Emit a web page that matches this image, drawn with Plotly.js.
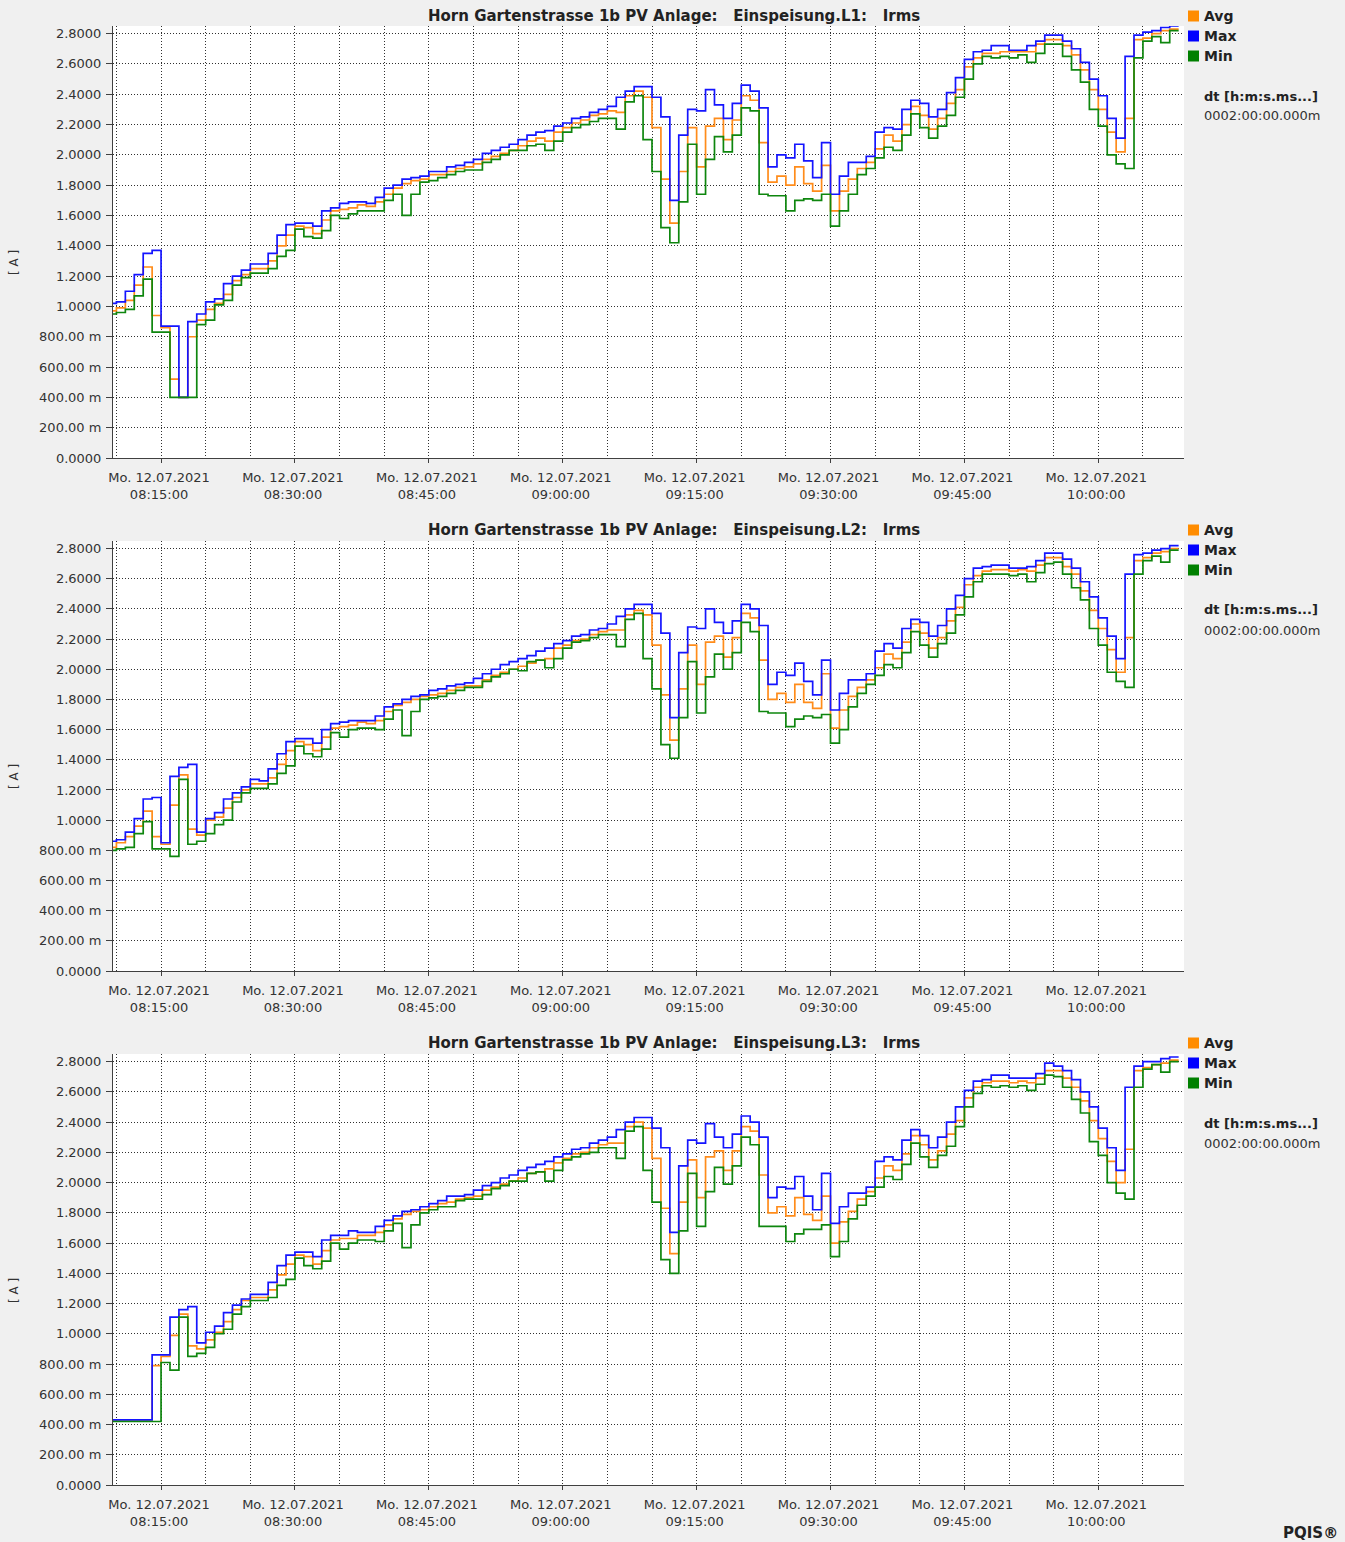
<!DOCTYPE html>
<html><head><meta charset="utf-8">
<script src="https://cdn.plot.ly/plotly-3.0.1.min.js"></script>
<style>html,body{margin:0;padding:0;background:#f0f0f0}#chart{width:1345px;height:1542px}</style>
</head><body><div id="chart"></div>
<script>
// ---------- DATA (1-minute values, starting 08:09) ----------
const L1_max = [1.02,1.03,1.10,1.21,1.35,1.37,0.87,0.87,0.40,0.90,0.95,1.03,1.05,1.15,1.20,1.24,1.28,1.28,1.35,1.47,1.54,1.55,1.55,1.53,1.63,1.65,1.68,1.69,1.69,1.68,1.72,1.78,
 1.80,1.84,1.85,1.86,1.89,1.89,1.92,1.93,1.95,1.97,2.01,2.03,2.05,2.07,2.10,2.13,2.15,2.16,2.19,2.21,2.24,2.25,2.28,2.30,2.32,2.38,2.42,2.45,2.45,
 2.38,2.25,1.70,2.13,2.30,2.29,2.43,2.33,2.24,2.34,2.46,2.42,2.31,1.92,2.00,1.98,2.07,1.96,1.85,2.08,1.74,1.86,1.95,1.95,1.99,2.15,2.18,2.17,2.30,
 2.36,2.34,2.25,2.30,2.41,2.51,2.63,2.68,2.69,2.72,2.72,2.69,2.69,2.72,2.75,2.79,2.79,2.75,2.70,2.61,2.50,2.39,2.24,2.11,2.65,2.79,2.81,2.82,2.84,2.85];
const L1_avg = [0.97,0.99,1.04,1.14,1.26,0.94,0.86,0.52,0.40,0.80,0.91,0.98,1.02,1.08,1.17,1.21,1.25,1.25,1.30,1.40,1.47,1.53,1.52,1.48,1.57,1.63,1.64,1.65,1.67,1.66,1.69,1.74,
 1.78,1.81,1.83,1.84,1.87,1.87,1.89,1.91,1.92,1.94,1.97,1.99,2.01,2.03,2.06,2.09,2.11,2.09,2.15,2.18,2.21,2.23,2.26,2.27,2.29,2.28,2.39,2.42,2.38,
 2.18,1.84,1.55,1.89,2.18,1.92,2.19,2.24,2.10,2.23,2.39,2.36,2.08,1.82,1.86,1.80,1.92,1.81,1.76,1.93,1.63,1.76,1.84,1.91,1.95,2.04,2.13,2.09,2.20,
 2.32,2.26,2.17,2.24,2.34,2.43,2.58,2.64,2.67,2.67,2.68,2.68,2.68,2.68,2.73,2.76,2.76,2.72,2.66,2.56,2.43,2.30,2.15,2.02,2.24,2.76,2.77,2.80,2.82,2.83];
const L1_min = [0.95,0.96,0.98,1.07,1.18,0.83,0.83,0.40,0.40,0.40,0.88,0.91,1.01,1.04,1.14,1.19,1.22,1.22,1.25,1.33,1.37,1.51,1.46,1.45,1.50,1.60,1.58,1.61,1.63,1.63,1.63,1.70,
 1.74,1.60,1.74,1.82,1.83,1.85,1.87,1.89,1.90,1.90,1.95,1.97,2.00,2.03,2.03,2.06,2.07,2.03,2.09,2.15,2.18,2.20,2.22,2.24,2.24,2.17,2.35,2.39,2.10,
 1.89,1.52,1.42,1.69,2.07,1.74,1.97,2.12,2.02,2.13,2.31,2.29,1.74,1.73,1.73,1.63,1.70,1.71,1.70,1.74,1.53,1.63,1.74,1.87,1.91,1.98,2.05,2.03,2.13,
 2.27,2.18,2.11,2.19,2.26,2.38,2.50,2.60,2.65,2.64,2.65,2.64,2.66,2.61,2.67,2.73,2.73,2.65,2.56,2.48,2.30,2.19,2.00,1.94,1.91,2.64,2.75,2.78,2.74,2.82];

const L2_max = [0.86,0.87,0.92,1.01,1.14,1.15,0.85,1.29,1.35,1.37,0.92,1.01,1.05,1.14,1.18,1.22,1.27,1.26,1.34,1.44,1.52,1.54,1.54,1.51,1.60,1.64,1.65,1.66,1.66,1.66,1.69,1.75,
 1.77,1.80,1.82,1.83,1.86,1.87,1.89,1.90,1.91,1.94,1.97,2.00,2.03,2.05,2.07,2.09,2.12,2.14,2.17,2.19,2.22,2.23,2.26,2.27,2.30,2.35,2.40,2.43,2.43,
 2.37,2.24,1.68,2.11,2.28,2.27,2.40,2.31,2.24,2.32,2.43,2.40,2.29,1.90,1.98,1.96,2.04,1.92,1.83,2.06,1.73,1.84,1.93,1.93,1.97,2.12,2.17,2.14,2.27,
 2.33,2.31,2.22,2.29,2.40,2.49,2.60,2.67,2.68,2.69,2.69,2.67,2.67,2.68,2.72,2.77,2.77,2.73,2.67,2.58,2.48,2.34,2.22,2.07,2.63,2.76,2.77,2.79,2.80,2.82];
const L2_avg = [0.82,0.85,0.89,0.96,1.06,0.89,0.84,1.10,1.30,0.94,0.90,1.00,1.02,1.08,1.15,1.20,1.24,1.24,1.28,1.37,1.46,1.52,1.50,1.46,1.55,1.61,1.62,1.63,1.65,1.64,1.66,1.72,
 1.76,1.78,1.80,1.82,1.83,1.84,1.86,1.88,1.89,1.89,1.93,1.96,1.98,2.00,2.02,2.04,2.06,2.07,2.14,2.16,2.19,2.20,2.23,2.25,2.26,2.26,2.36,2.39,2.36,
 2.16,1.83,1.53,1.87,2.16,1.90,2.18,2.22,2.08,2.21,2.37,2.34,2.06,1.80,1.84,1.78,1.90,1.78,1.74,1.97,1.61,1.73,1.82,1.88,1.93,2.01,2.10,2.07,2.18,
 2.30,2.24,2.14,2.21,2.32,2.41,2.56,2.62,2.65,2.66,2.66,2.65,2.66,2.65,2.69,2.74,2.74,2.68,2.63,2.52,2.39,2.27,2.13,1.98,2.21,2.72,2.74,2.77,2.78,2.80];
const L2_min = [0.80,0.81,0.82,0.91,0.99,0.81,0.81,0.76,1.27,0.84,0.86,0.91,0.97,1.00,1.12,1.18,1.21,1.21,1.24,1.31,1.36,1.49,1.44,1.42,1.47,1.58,1.55,1.60,1.61,1.61,1.60,1.67,
 1.73,1.56,1.72,1.80,1.81,1.82,1.84,1.86,1.88,1.88,1.92,1.95,1.97,2.00,1.99,2.05,2.06,2.01,2.07,2.14,2.18,2.19,2.21,2.23,2.23,2.15,2.33,2.37,2.07,
 1.87,1.50,1.41,1.68,2.05,1.71,1.95,2.10,2.00,2.11,2.31,2.25,1.72,1.71,1.71,1.62,1.67,1.69,1.68,1.70,1.51,1.60,1.75,1.84,1.90,1.96,2.03,2.01,2.11,
 2.25,2.16,2.08,2.17,2.24,2.36,2.48,2.58,2.63,2.63,2.63,2.62,2.63,2.58,2.64,2.70,2.71,2.63,2.54,2.46,2.27,2.16,1.98,1.92,1.88,2.63,2.72,2.75,2.71,2.79];

const L3_max = [0.43,0.43,0.43,0.43,0.43,0.86,0.86,1.11,1.16,1.18,0.94,1.01,1.05,1.14,1.19,1.23,1.26,1.26,1.34,1.45,1.52,1.54,1.54,1.51,1.62,1.65,1.65,1.68,1.67,1.67,1.71,1.75,
 1.78,1.81,1.82,1.84,1.86,1.88,1.91,1.91,1.92,1.95,1.98,2.00,2.03,2.05,2.08,2.10,2.12,2.14,2.17,2.19,2.22,2.23,2.26,2.28,2.30,2.35,2.40,2.43,2.43,
 2.36,2.23,1.67,2.11,2.28,2.26,2.39,2.30,2.23,2.32,2.44,2.40,2.30,1.90,1.97,1.96,2.04,1.91,1.82,2.06,1.73,1.84,1.93,1.93,1.97,2.14,2.17,2.15,2.28,
 2.35,2.31,2.23,2.30,2.40,2.50,2.61,2.67,2.68,2.71,2.71,2.69,2.69,2.69,2.72,2.79,2.77,2.74,2.68,2.60,2.50,2.36,2.23,2.08,2.63,2.77,2.80,2.80,2.82,2.83];
const L3_avg = [0.43,0.43,0.43,0.43,0.43,0.79,0.85,0.99,1.13,0.92,0.90,0.96,1.01,1.08,1.16,1.22,1.24,1.24,1.29,1.39,1.46,1.52,1.51,1.46,1.55,1.62,1.63,1.63,1.65,1.65,1.67,1.72,
 1.76,1.79,1.81,1.82,1.84,1.86,1.87,1.89,1.90,1.91,1.95,1.97,1.99,2.01,2.03,2.06,2.07,2.09,2.13,2.16,2.19,2.20,2.23,2.25,2.26,2.26,2.37,2.40,2.36,
 2.16,1.83,1.53,1.87,2.15,1.90,2.17,2.21,2.08,2.21,2.37,2.34,2.05,1.80,1.84,1.78,1.90,1.79,1.75,1.91,1.60,1.74,1.81,1.89,1.94,2.03,2.11,2.08,2.19,
 2.31,2.25,2.15,2.21,2.32,2.41,2.56,2.63,2.66,2.67,2.67,2.66,2.67,2.66,2.69,2.74,2.74,2.69,2.63,2.54,2.41,2.29,2.14,2.00,2.22,2.74,2.76,2.78,2.79,2.81];
const L3_min = [0.42,0.42,0.42,0.42,0.42,0.42,0.81,0.76,1.11,0.85,0.87,0.91,1.00,1.03,1.13,1.18,1.22,1.22,1.24,1.32,1.36,1.50,1.45,1.43,1.48,1.60,1.56,1.60,1.62,1.62,1.61,1.68,
 1.73,1.57,1.72,1.80,1.82,1.84,1.84,1.88,1.89,1.89,1.92,1.96,1.98,2.01,2.01,2.06,2.07,2.01,2.08,2.15,2.17,2.19,2.20,2.23,2.23,2.16,2.34,2.37,2.08,
 1.87,1.49,1.40,1.68,2.06,1.71,1.94,2.10,1.99,2.11,2.30,2.25,1.71,1.71,1.71,1.61,1.66,1.69,1.69,1.72,1.51,1.61,1.76,1.85,1.91,1.97,2.04,2.02,2.12,
 2.26,2.17,2.10,2.18,2.24,2.37,2.50,2.59,2.64,2.63,2.64,2.63,2.64,2.61,2.65,2.71,2.70,2.63,2.55,2.46,2.27,2.18,2.00,1.93,1.89,2.63,2.75,2.78,2.73,2.80];

const titles = [
  'Horn Gartenstrasse 1b PV Anlage:\u00a0\u00a0\u00a0Einspeisung.L1:\u00a0\u00a0\u00a0Irms',
  'Horn Gartenstrasse 1b PV Anlage:\u00a0\u00a0\u00a0Einspeisung.L2:\u00a0\u00a0\u00a0Irms',
  'Horn Gartenstrasse 1b PV Anlage:\u00a0\u00a0\u00a0Einspeisung.L3:\u00a0\u00a0\u00a0Irms'
];
const seriesNames = ['Avg','Max','Min'];
const yTickVals = [0,0.2,0.4,0.6,0.8,1.0,1.2,1.4,1.6,1.8,2.0,2.2,2.4,2.6,2.8];
const yTickText = ['0.0000','200.00 m','400.00 m','600.00 m','800.00 m','1.0000','1.2000','1.4000','1.6000','1.8000','2.0000','2.2000','2.4000','2.6000','2.8000'];
const xTickVals = ['2021-07-12 08:15:00','2021-07-12 08:30:00','2021-07-12 08:45:00','2021-07-12 09:00:00','2021-07-12 09:15:00','2021-07-12 09:30:00','2021-07-12 09:45:00','2021-07-12 10:00:00'];
const xTickText = xTickVals.map(v => 'Mo. 12.07.2021<br>' + v.slice(11));
const yUnit = '[ A ]';
const dtLabel = 'dt [h:m:s.ms...]';
const dtValue = '0002:00:00.000m';

// ---------- time axis ----------
function minuteStamp(i){
  const m = 8*60 + 9 + i;
  const hh = String(Math.floor(m/60)).padStart(2,'0');
  const mm = String(m%60).padStart(2,'0');
  return '2021-07-12 ' + hh + ':' + mm + ':00';
}
const nPts = L1_avg.length;
const times = Array.from({length:nPts+1}, (_,i)=>minuteStamp(i));
const closeStep = arr => arr.concat([arr[arr.length-1]]);

// ---------- layout geometry ----------
const W = 1345, H = 1542;
const px = x => x / W, py = y => 1 - y / H;
const panels = [
  {top:26, bottom:458, off:0, yTitle:262, data:[L1_avg,L1_max,L1_min]},
  {top:541, bottom:971, off:514, yTitle:776, data:[L2_avg,L2_max,L2_min]},
  {top:1054, bottom:1485, off:1027, yTitle:1290, data:[L3_avg,L3_max,L3_min]}
];
const colors = ['#ff8c1a','#1414ff','#0e860e'];
const legendColors = ['#ff8c00','#0000ff','#008000'];
const FONT = 'DejaVu Sans, Verdana, sans-serif';
const gridStyle = {showgrid:true, gridcolor:'#303030', gridwidth:1, griddash:'1px,2px'};

const traces = [];
const layout = {
  width:W, height:H, margin:{l:0,r:0,t:0,b:0},
  paper_bgcolor:'#f0f0f0', plot_bgcolor:'#ffffff',
  showlegend:false, font:{family:FONT, size:13, color:'#333'},
  annotations:[], shapes:[]
};

panels.forEach((p, k) => {
  const sfx = k === 0 ? '' : String(k+1);
  const xa = 'x' + sfx, ya = 'y' + sfx;
  p.data.forEach((arr, s) => {
    traces.push({
      type:'scatter', mode:'lines', name:seriesNames[s],
      x: times, y: closeStep(arr), xaxis:xa, yaxis:ya,
      line:{shape:'hv', color:colors[s], width:1.7},
      hoverinfo:'x+y+name'
    });
  });
  layout['xaxis'+sfx] = Object.assign({
    domain:[px(113), px(1184)], anchor:ya, type:'date',
    range:['2021-07-12 08:09:37','2021-07-12 10:09:36'],
    tickmode:'array', tickvals:xTickVals, ticktext:xTickText,
    minor:Object.assign({tickmode:'linear', tick0:'2021-07-12 08:10:00', dtick:300000, ticks:''}, gridStyle),
    showline:true, linecolor:'#404040', linewidth:1,
    ticks:'outside', ticklen:4, tickcolor:'#404040',
    ticklabelstandoff:3, ticklabelshift:-2,
    tickfont:{family:FONT, size:13, color:'#333'},
    zeroline:false, automargin:false
  }, gridStyle);
  layout['yaxis'+sfx] = Object.assign({
    domain:[py(p.bottom), py(p.top)], anchor:xa,
    range:[0, 2.85], tickmode:'array', tickvals:yTickVals, ticktext:yTickText,
    showline:true, linecolor:'#404040', linewidth:1,
    ticks:'outside', ticklen:6, tickcolor:'#404040',
    ticklabelstandoff:2,
    tickfont:{family:FONT, size:13, color:'#333'},
    zeroline:false, automargin:false
  }, gridStyle);

  // title
  layout.annotations.push({xref:'paper', yref:'paper', x:px(674), y:py(16+p.off),
    xanchor:'center', yanchor:'middle', showarrow:false, text:'<b>'+titles[k]+'</b>',
    font:{family:FONT, size:15, color:'#222'}});
  // y unit
  layout.annotations.push({xref:'paper', yref:'paper', x:px(14), y:py(p.yTitle),
    xanchor:'center', yanchor:'middle', showarrow:false, text:yUnit, textangle:-90,
    font:{family:FONT, size:12, color:'#333'}});
  // legend
  seriesNames.forEach((nm, s) => {
    const cy = 16 + 20*s + p.off;
    layout.shapes.push({type:'rect', xref:'paper', yref:'paper',
      x0:px(1188), x1:px(1199), y0:py(cy+5.5), y1:py(cy-5.5),
      fillcolor:legendColors[s], line:{width:0}});
    layout.annotations.push({xref:'paper', yref:'paper', x:px(1202), y:py(cy),
      xanchor:'left', yanchor:'middle', showarrow:false, text:'<b>'+nm+'</b>',
      font:{family:FONT, size:14, color:'#222'}});
  });
  layout.annotations.push({xref:'paper', yref:'paper', x:px(1202), y:py(96+p.off),
    xanchor:'left', yanchor:'middle', showarrow:false, text:'<b>'+dtLabel+'</b>',
    font:{family:FONT, size:13, color:'#222'}});
  layout.annotations.push({xref:'paper', yref:'paper', x:px(1202), y:py(116+p.off),
    xanchor:'left', yanchor:'middle', showarrow:false, text:dtValue,
    font:{family:FONT, size:13, color:'#333'}});
});

layout.annotations.push({xref:'paper', yref:'paper', x:px(1340), y:py(1533),
  xanchor:'right', yanchor:'middle', showarrow:false, text:'<b>PQIS®</b>',
  font:{family:FONT, size:15, color:'#222'}});

Plotly.newPlot('chart', traces, layout, {displayModeBar:false, staticPlot:true});
</script>
</body></html>
